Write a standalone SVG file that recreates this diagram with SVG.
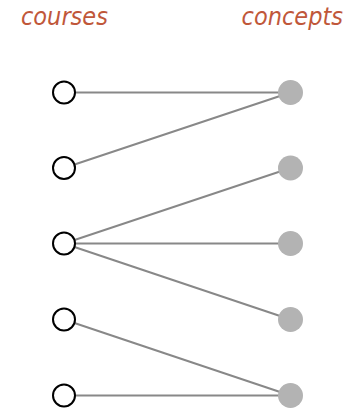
<svg xmlns="http://www.w3.org/2000/svg" width="349" height="408" viewBox="0 0 349 408">
<style>
.lbl{font-family:"DejaVu Sans Condensed","DejaVu Sans",sans-serif;font-stretch:condensed;font-style:italic;font-size:25px;fill:#c0573a}
.course{fill:#fff;stroke:#000;stroke-width:2}
.concept{fill:#b3b3b3}
.edge{stroke:#888;stroke-width:2;fill:none}
</style>
<rect width="349" height="408" fill="#fff"/>
<text class="lbl" x="21" y="25">courses</text>
<text class="lbl" x="343" y="25" text-anchor="end">concepts</text>
<g id="connectors">
<line class="edge" x1="64" y1="92.5" x2="290.5" y2="92.5"/>
<line class="edge" x1="64" y1="168" x2="290.5" y2="92.5"/>
<line class="edge" x1="64" y1="243.5" x2="290.5" y2="168"/>
<line class="edge" x1="64" y1="243.5" x2="290.5" y2="243.5"/>
<line class="edge" x1="64" y1="243.5" x2="290.5" y2="319.5"/>
<line class="edge" x1="64" y1="319.5" x2="290.5" y2="395.5"/>
<line class="edge" x1="64" y1="395.5" x2="290.5" y2="395.5"/>
</g>
<g id="course1"><circle class="course" cx="64" cy="92.5" r="11"/></g>
<g id="course2"><circle class="course" cx="64" cy="168" r="11"/></g>
<g id="course3"><circle class="course" cx="64" cy="243.5" r="11"/></g>
<g id="course4"><circle class="course" cx="64" cy="319.5" r="11"/></g>
<g id="course5"><circle class="course" cx="64" cy="395.5" r="11"/></g>
<g id="concept1"><circle class="concept" cx="290.5" cy="92.5" r="12.5"/></g>
<g id="concept2"><circle class="concept" cx="290.5" cy="168" r="12.5"/></g>
<g id="concept3"><circle class="concept" cx="290.5" cy="243.5" r="12.5"/></g>
<g id="concept4"><circle class="concept" cx="290.5" cy="319.5" r="12.5"/></g>
<g id="concept5"><circle class="concept" cx="290.5" cy="395.5" r="12.5"/></g>
</svg>
